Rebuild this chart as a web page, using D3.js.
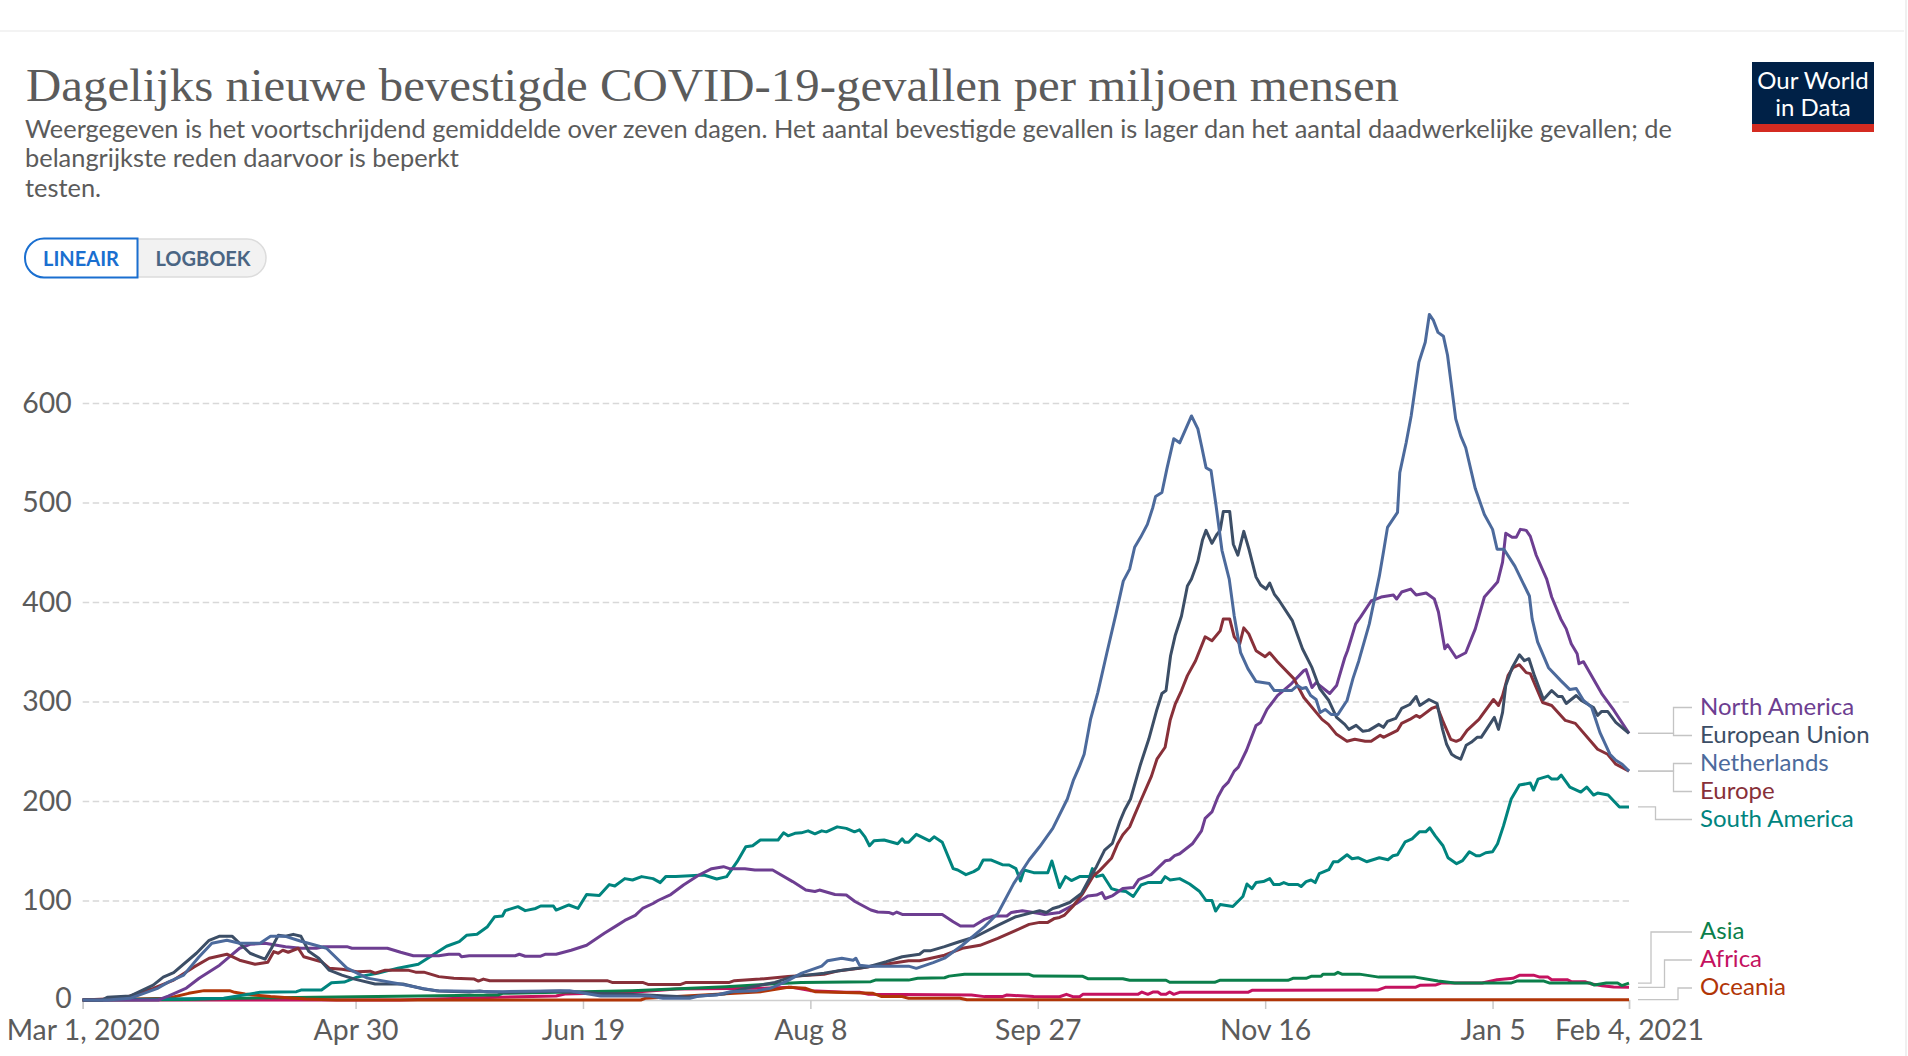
<!DOCTYPE html>
<html>
<head>
<meta charset="utf-8">
<script src="https://cdn.jsdelivr.net/npm/d3@7"></script>
<style>
  html, body { margin: 0; padding: 0; background: #fff; }
  svg { display: block; font-family: Lato, sans-serif; }
</style>
</head>
<body>
<svg id="chart"></svg>
<script>
// each point is [days since Mar 1 2020, cases per million]
const netherlands = [[0,0],[5.4,0],[10.4,1.7],[16.6,12],[18.8,18],[22.2,25],[25.5,43],[28.4,57],[31.7,60],[34.5,57],[39,57],[41.3,64],[44.6,64],[48,59],[53.6,52],[58.1,32],[62.6,22],[69.8,16],[74.7,11.7],[77.6,9.4],[92.3,8.4],[107,9.4],[113.9,4],[124.7,4],[127.6,1.7],[133.5,1.7],[135.5,4],[139.4,5],[142.4,8.4],[148.3,9.4],[151.2,11.7],[154.6,18.4],[158.1,27],[162.5,34],[163.8,39.5],[166.9,42],[169.4,40],[170,42],[170.8,35],[172.8,34],[181.6,34],[183.3,31.8],[187,37.5],[189.5,42],[193.4,55],[198.3,73.7],[201.2,87],[204.7,117],[208.1,140.7],[210.4,154],[213.3,172.5],[216.5,202],[217.8,220.4],[219.1,234],[220.2,247],[221.6,282],[223.2,309],[225.2,349],[227.2,388],[228.8,421],[230.2,433],[231.3,455],[232.6,465],[234.1,478],[235.3,495],[235.9,506],[237.3,510],[238.4,534],[239.9,564],[241.2,560],[243.8,587],[245.2,574],[246,557],[247,535],[248.1,532],[249.2,497],[250.5,452],[252.1,423],[253.2,386],[254.6,349],[256.2,333],[258,320],[260.9,318],[262,311],[265.8,311],[267.1,316],[268.1,313],[269,314],[270,306],[271.2,302],[272.1,289],[273.2,292],[274.5,287],[276,287],[278,301],[279.3,323],[280.6,341],[282.9,378],[285.1,426],[286,450],[286.9,475],[289.1,490],[289.6,530],[291,560],[292.1,587],[293.8,641],[295.2,661],[296.1,689],[297,683],[298,671],[299.2,667],[300.1,648],[301.9,584],[303,567],[304.1,555],[306.2,514],[308.2,488],[310,473],[311,453],[312.5,453],[314.9,436],[318.1,406],[318.7,383],[319.9,360],[322.3,334],[325,321],[327,312],[328.4,313],[330,301],[331.8,294],[333.6,269],[335.8,247],[337.1,241],[338.5,237],[340,230]];

const europeanUnion = [[0,0],[4.3,0],[5.4,2.7],[10.4,4],[15.5,15],[17.7,23],[20,27.5],[25,47],[27.8,60],[30,64],[32.9,64],[34.5,57],[36.8,47],[40.1,41],[41.5,52],[43,65],[44.6,64],[46.3,66],[48,64],[49.7,49],[51.9,42],[54.2,30],[57,25],[59.8,21],[64.3,16],[70.4,16],[75,11],[78.3,9],[85,8],[87.3,9],[88.9,8],[94,7.7],[105,9],[113,6.7],[124,5],[133,3],[141,6],[147.3,13.4],[152.2,17.7],[156.1,23.5],[163,27],[167,30],[172.8,33.5],[176.7,38.5],[180.2,43.5],[184,46],[185,49.6],[186.5,49.6],[189.5,53.6],[192.4,58],[196.3,63.6],[201.2,75],[205.2,83.7],[210.4,89.8],[211.9,88],[213.3,92],[214.8,94],[217,98],[219.6,107],[221.8,125.6],[222.9,134],[224.7,150.7],[226.4,157.4],[228,179],[229.1,191],[230.4,202],[232.6,237],[234.4,262],[236.2,292],[237.3,308],[238.2,311],[239.2,346],[240.2,366],[241.6,386],[242.9,416],[243.8,423],[245.2,441],[246.2,462],[247,472],[248.3,459],[249.4,468],[250.1,472],[250.8,491],[252.2,491],[253,458],[254,447],[255.3,471],[256.5,452],[258,425],[259,417],[260.2,413],[261,419],[262,408],[263,402],[266,381],[268.2,353],[270.3,334],[272,313],[274,301],[275.7,284],[277.5,277],[278.4,272],[280,276],[281.5,270],[282.8,271],[285,277],[286,274],[286.9,280],[288.7,283],[290,293],[291.8,297],[293.2,305],[294,296],[296,302],[297.8,298],[299,272],[299.9,257],[301,247],[302,244],[303,242],[304.2,256],[305.3,259],[306.6,264],[307.5,264],[310.4,284],[311.3,272],[312.2,289],[312.9,316],[314.3,334],[315.9,347],[317,341],[318,343],[319.2,326],[321.2,302],[323,311],[324.4,305],[325.3,305],[326.2,298],[328.4,306],[329.5,301],[332.2,294],[333.1,286],[334,290],[335.3,290],[337.1,279],[340,268]];

const europe = [[0,0],[8.8,1.7],[12.1,6.7],[15.5,11.7],[20,20],[24.4,33],[27.8,42],[31.7,46],[34.5,40],[37.9,36],[40.7,38],[42,48.6],[43,47],[44,50],[45.2,48],[47.4,52],[48.6,43.5],[52.5,38.5],[54.2,32],[57,31],[60.3,28.5],[63.2,29],[64.3,27],[66.5,30],[71.5,30],[73.2,28],[75,28],[78.3,23.5],[81.6,21.8],[86.1,21],[87,19],[88.1,21],[89.5,19.4],[115.3,19.4],[116.4,17.7],[123.1,17.7],[124.3,15.7],[131.5,15.7],[132.7,17.7],[142.2,17.7],[143.3,19.4],[148.9,21],[155.1,23.5],[163,25.8],[166.4,29.5],[170.8,32],[172.8,33.5],[181.6,39.5],[184,39.5],[189.5,45],[193.4,52],[197.3,55],[201.2,62],[205.2,70],[208.1,76],[210.4,78],[212.2,78],[213.7,82],[214.8,83],[215.9,85.4],[217.7,94],[219.9,107],[222.1,124],[223.6,130],[226.2,142.4],[227.6,157.4],[228.7,166],[230.2,174],[231.3,186],[232.8,202],[235,225],[236.2,242],[238,254],[239.1,281],[240.2,297],[241.6,311],[242.9,326],[244.7,341],[246.8,365],[248.3,361],[250.1,371],[250.8,383],[252.2,383],[253.2,365],[254.4,358],[255.3,374],[256.4,368],[258,351],[260,345],[261,349],[262.7,340],[266.3,323],[268.5,304],[272.5,282],[273.9,277],[275.7,267],[278,260],[279.7,262],[282,260],[283.3,260],[285.3,266],[286,264],[289.1,271],[290,278],[291.8,282],[293.2,286],[294,284],[296.6,293],[297.8,295],[299,281],[300.8,262],[302,260],[303,262],[304.4,271],[307,282],[310.2,302],[311.3,296],[312.2,306],[313.4,326],[314.5,334],[315.9,337],[317.4,329],[318.3,328],[321,299],[323,296],[326,281],[328.2,278],[333.1,252],[335.3,247],[337.1,237],[340,230]];

const northAmerica = [[0,0],[16.6,0],[18.8,4],[22.8,12],[25.6,21.8],[30.1,35],[32.3,43.5],[34.5,52],[36.8,56],[40.1,57],[44.6,53.6],[48,52],[51.4,52],[53,53.6],[58.1,53.6],[59.2,52],[67,52],[69.9,48],[72.7,44.5],[78.3,44.5],[80.5,46],[82.8,46],[83.3,43.5],[85,44.5],[95.1,44.5],[96,46],[97.3,44],[100.7,44],[101.8,46],[104.1,46],[107.4,50],[110.8,55],[114.7,67],[117.5,75],[119.2,80],[121.5,85],[123.1,92],[125.4,97],[126.5,100],[129.3,106],[132.1,115.6],[135.5,125.6],[138.3,132],[140.9,134],[142.2,132],[145.6,132],[147.8,130.6],[151.7,130.6],[156.1,119],[159,110.5],[161,109],[162,110.5],[165.4,106],[167.9,105.5],[169.8,99],[173.3,90.4],[174.8,88.4],[177.2,88],[178.2,86.4],[179,88.4],[180.2,86],[189,86],[191.4,78.7],[193,74.4],[195.9,74.4],[198.3,81],[200.3,84.4],[203.2,84.4],[204.2,88],[206.6,89.8],[210.4,87],[211.5,86],[214.8,88],[218.5,97],[221,104.5],[222.9,105.5],[224.1,108],[224.8,102],[226.5,105],[228.7,112],[231,113],[232.2,121],[234.9,126],[238.1,140],[239,140.7],[240.1,145],[241.2,147],[244,157],[246,170],[246.8,182.6],[248.3,189],[249.6,204],[250.8,214],[251.9,219],[253.2,230],[254.1,234],[255.9,251],[258,276],[259,279],[260.4,292],[262.7,306],[265.8,318],[268.5,331],[269,332],[270.3,314],[271.2,319],[274.2,308],[275.7,316],[277.5,344],[278.1,351],[279.9,378],[281,385],[283.3,401],[285.5,405],[288.2,407],[288.9,403],[290,410],[292,413],[293.2,407],[295.4,409],[297.2,403],[298.1,390],[299.5,353],[300.1,357],[302,344],[304.1,349],[306.2,373],[308.2,405],[311.1,420],[312.2,440],[312.9,469],[314.3,465],[315.2,465],[316.1,473],[317.4,472],[318.3,466],[319.6,447],[321.9,423],[323,405],[325,383],[326.2,373],[327.3,358],[328.6,348],[329,338],[330,340],[334,308],[336.7,291],[340,268]];

const southAmerica = [[0,0],[31,1.7],[39,7.7],[47,8.4],[48,10],[52.5,10],[54.7,17.4],[57.5,18],[60.3,23],[64.8,26.8],[69.3,32],[73.8,36],[80,54],[82.8,58.6],[84.4,65],[86.7,66],[89,73.7],[90.6,83.7],[92.3,84.4],[92.9,89.8],[95.7,93.8],[97.3,89.8],[99.6,92],[100.7,94.5],[103.5,94.5],[104.1,90.4],[106.9,95.5],[108.9,92],[110.8,106],[113.6,105],[115.8,116],[117,114.6],[119.2,122],[120.9,120.6],[122.9,124],[125.4,122],[127,118],[128.2,124],[130.4,124],[136.6,125.6],[139.4,121.6],[141.6,124],[143.9,139],[145.8,154],[147.3,155],[149,160.8],[152.9,160.8],[154.1,168],[155.1,165],[156.6,167.5],[158,168],[159.5,170],[161,167],[162.5,170],[163.5,169],[165.9,174],[167.9,172.5],[169.7,169],[170.8,171],[172,164],[173,155],[174,160],[176.2,160.8],[179.2,157],[180.2,162],[180.8,158.5],[181.6,158.5],[183.3,166.5],[186.2,160],[187.2,164],[189,158.5],[191.4,132],[192.4,130.6],[194.2,126],[195.9,129],[197,132],[198,140.7],[199.8,140.7],[202.2,136],[203.7,135.7],[205.2,132],[206.2,119.6],[207,130.6],[209.1,128],[212.2,128],[213.1,139.7],[214.8,113],[216.1,124],[217.4,120],[219.2,124],[221.4,124],[222,132],[222.9,124],[224.3,125.6],[226.2,112],[227.6,110],[229.4,109],[231,104],[232.7,115.6],[234.2,118],[237.1,118],[238,124],[239.1,120.6],[241.2,122],[243.4,116.6],[245.6,109],[247,100],[248.3,100],[249.1,89.4],[250.1,96],[252.9,94],[255.1,104],[256,116.6],[257.1,112],[258,118],[259.6,119],[261,122],[261.9,116],[263.1,116],[264.1,118],[265.2,116],[267.2,116],[267.9,114],[269,119],[270.1,120.6],[271,118],[271.9,127],[274,131],[275,139],[276,139],[278,146],[279.1,142],[280.4,143],[282.3,139],[285.1,143],[287,141],[288.1,145],[289.1,146],[290.8,159],[292.3,162],[293.9,169],[295.3,169],[296.2,173],[297.4,165],[299.1,155],[300.2,143],[302.1,137],[303.4,140],[304.9,149],[306.4,145],[307.2,145],[308.5,148],[310,149],[311.1,157],[312.4,175],[314.1,202],[315.9,216],[318.3,218],[319,211],[320,222],[322.2,225],[323,222],[324.3,222],[325.1,226],[327,214],[329.4,209],[330.7,214],[332.2,206],[333.1,208],[335.4,206],[337.9,194],[340,194]];

const asia = [[0,0],[23.3,0.5],[31,1.5],[73.7,4],[91.3,5],[92.3,6.7],[120.8,9.4],[141.4,13.4],[151.2,16],[158,17.7],[173.3,18.4],[174.3,20],[181.6,20],[183.6,21.8],[189.5,22.4],[190.5,24],[193.9,25.8],[208.1,25.8],[209.1,24],[219.9,23.8],[221,21.4],[228.7,21.4],[230.2,19.8],[238.2,19.8],[239,17.8],[248.9,17.8],[250,19.8],[265,19.8],[266.1,21.8],[269,21.8],[270.1,23.8],[272.3,23.8],[272.7,25.8],[275.2,25.8],[276,27.8],[277,25.8],[280.7,26],[285,23],[293,23],[298,19],[301.7,17],[314,17],[315.3,19],[321.3,19],[322.6,17],[331.5,17],[332.4,15],[335,17],[337.5,17],[338.4,14.5],[340,17]];

const africa = [[0,0],[69.8,0],[91.3,2.7],[104.1,4],[106,6],[120.8,7.7],[130.6,11],[148.3,11.7],[156,12.7],[160,9.4],[167.9,7.7],[170.8,7.7],[172.8,5.7],[195.4,5],[198.3,3.4],[202.2,3.4],[203.2,5],[209.1,3.4],[214.8,3.3],[216.3,5.7],[217.7,3.3],[219.2,3.3],[219.9,5.7],[232,5.7],[232.9,8],[234.2,5.7],[235.3,8],[236.4,8],[237.1,5.7],[238.2,5.7],[239,8],[239.9,5.7],[241.2,7.7],[256.2,7.7],[257.1,9.7],[284.7,10],[286.4,12.7],[293,12.7],[294,14.7],[297.4,15],[298.7,17],[307.7,17],[311,20.4],[314.5,21.8],[316,25],[319,25],[320.4,23],[322.2,23],[323,20.4],[326.4,20.4],[327.3,18.4],[330.3,18.4],[331.5,16.4],[334.1,14.4],[336.6,13],[340,12.7]];

const oceania = [[0,0],[18.8,1.7],[23.3,6.7],[26.7,9.4],[32.3,9.4],[33.4,7.7],[35.7,6],[41.3,3.4],[49,1],[55.8,0],[122.7,0],[123.7,1.7],[130.6,3.4],[140.4,6],[147.3,7.7],[149.2,8.4],[155.1,12.7],[159,11.7],[161,8.4],[173.8,6.7],[175.7,3.4],[180.2,3.4],[181.6,1.7],[192.9,1.7],[194.4,0.3],[340,0.3]];

const seriesNames = ["North America", "European Union", "Netherlands", "Europe", "South America", "Asia", "Africa", "Oceania"];
const seriesValues = [northAmerica, europeanUnion, netherlands, europe, southAmerica, asia, africa, oceania];
const seriesColors = ["#6D3E91", "#3C4E66", "#4C6A9C", "#883039", "#00847E", "#0B7F4B", "#C4125F", "#B13507"];
const drawOrder = ["Africa", "Asia", "Oceania", "South America", "North America", "Europe", "European Union", "Netherlands"];

const tickDays = [0, 60, 110, 160, 210, 260, 310, 340];
const tickLabels = ["Mar 1, 2020", "Apr 30", "Jun 19", "Aug 8", "Sep 27", "Nov 16", "Jan 5", "Feb 4, 2021"];
const yTicks = [0, 100, 200, 300, 400, 500, 600];

const titleText = "Dagelijks nieuwe bevestigde COVID-19-gevallen per miljoen mensen";
const subtitleLines = [
  "Weergegeven is het voortschrijdend gemiddelde over zeven dagen. Het aantal bevestigde gevallen is lager dan het aantal daadwerkelijke gevallen; de",
  "belangrijkste reden daarvoor is beperkt",
  "testen."
];

const width = 1908, height = 1056;
const textGray = "#5b5b5b";
const svg = d3.select("#chart").attr("width", width).attr("height", height);

const x = d3.scaleLinear().domain([0, 340]).range([82.7, 1629]);
const y = d3.scaleLinear().domain([0, 600]).range([1000, 403]);

// faint frame of the embed
svg.append("rect").attr("x", 0).attr("y", 30).attr("width", 1904).attr("height", 2).attr("fill", "#f3f3f3");
svg.append("rect").attr("x", 1905).attr("y", 0).attr("width", 2).attr("height", height).attr("fill", "#f0f0f0");

// header
svg.append("text").attr("x", 26).attr("y", 101)
  .attr("font-family", "'Liberation Serif', serif").attr("font-size", 47)
  .attr("textLength", 1373).attr("lengthAdjust", "spacingAndGlyphs")
  .attr("fill", textGray).text(titleText);

svg.selectAll(".subtitle").data(subtitleLines).join("text")
  .attr("class", "subtitle").attr("x", 25).attr("y", (d, i) => 137.5 + i * 29.8)
  .attr("font-size", 25.4).attr("fill", textGray).text(d => d);

// logo
const logo = svg.append("g");
logo.append("rect").attr("x", 1752).attr("y", 62).attr("width", 122).attr("height", 70).attr("fill", "#002147");
logo.append("rect").attr("x", 1752).attr("y", 124).attr("width", 122).attr("height", 8).attr("fill", "#D42B21");
logo.selectAll("text").data(["Our World", "in Data"]).join("text")
  .attr("x", 1813).attr("y", (d, i) => 89 + i * 26.5).attr("text-anchor", "middle")
  .attr("font-size", 24).attr("fill", "#fff").text(d => d);

// scale toggle
svg.append("path").attr("d", "M137.5,239H247a19,19 0 0 1 0,38H137.5Z")
  .attr("fill", "#f2f2f2").attr("stroke", "#dcdcdc").attr("stroke-width", 1.5);
svg.append("path").attr("d", "M137.5,238.5H44a19,19.5 0 0 0 0,39H137.5Z")
  .attr("fill", "#fff").attr("stroke", "#1a6fd0").attr("stroke-width", 2);
svg.append("text").attr("x", 81).attr("y", 265.5).attr("text-anchor", "middle")
  .attr("font-size", 20).attr("font-weight", 700).attr("fill", "#1a6fd0").text("LINEAIR");
svg.append("text").attr("x", 203).attr("y", 265.5).attr("text-anchor", "middle")
  .attr("font-size", 20).attr("font-weight", 700).attr("fill", "#4a6583").text("LOGBOEK");

// y axis with dashed grid
const yAxis = svg.append("g").attr("transform", "translate(82.7,0)")
  .call(d3.axisLeft(y).tickValues(yTicks).tickSize(-(x(340) - x(0))).tickPadding(11));
yAxis.select(".domain").remove();
yAxis.selectAll("line").attr("stroke", "#d8d8d8").attr("stroke-width", 1.5).attr("stroke-dasharray", "6.5,3.5");
yAxis.selectAll("line").filter(d => d === 0).remove();
yAxis.selectAll("text").attr("font-family", "Lato, sans-serif").attr("font-size", 28.4).attr("fill", textGray);
yAxis.selectAll("text").filter(d => d === 0).attr("dy", "0.25em");

// x axis
const xAxis = svg.append("g").attr("transform", `translate(0,${y(0)})`)
  .call(d3.axisBottom(x).tickValues(tickDays).tickFormat((d, i) => tickLabels[i]).tickSize(9).tickPadding(11));
xAxis.select(".domain").attr("stroke", "#cfcfcf").attr("stroke-width", 1.5);
xAxis.selectAll("line").attr("stroke", "#c8c8c8").attr("stroke-width", 1.5);
xAxis.selectAll("text").attr("font-family", "Lato, sans-serif").attr("font-size", 28.4).attr("fill", textGray);

// lines
const line = d3.line().x(d => x(d[0])).y(d => y(d[1]));
svg.append("g").selectAll("path").data(drawOrder).join("path")
  .attr("d", name => line(seriesValues[seriesNames.indexOf(name)]))
  .attr("fill", "none").attr("stroke-width", 3).attr("stroke-linejoin", "round")
  .attr("stroke", name => seriesColors[seriesNames.indexOf(name)]);

// end labels
const labelY = [706.5, 734.5, 762.5, 790.5, 818.5, 931, 959, 987];
const connectorY = [707.5, 735.5, 763.5, 791.5, 819.5, 932, 960, 988];
const elbowX = [1673.5, 1673.5, 1673.5, 1673.5, 1655.5, 1651, 1664.5, 1678];
svg.append("g").selectAll("path").data(seriesNames).join("path")
  .attr("d", (name, i) => {
    const values = seriesValues[i];
    const endY = y(values[values.length - 1][1]);
    return `M1638,${endY}H${elbowX[i]}V${connectorY[i]}H1692`;
  })
  .attr("fill", "none").attr("stroke", "#c4c4c4").attr("stroke-width", 1.3);
svg.append("g").selectAll("text").data(seriesNames).join("text")
  .attr("x", 1700).attr("y", (d, i) => labelY[i]).attr("dy", "0.35em")
  .attr("font-size", 24).attr("fill", (d, i) => seriesColors[i]).text(d => d);
</script>
</body>
</html>
